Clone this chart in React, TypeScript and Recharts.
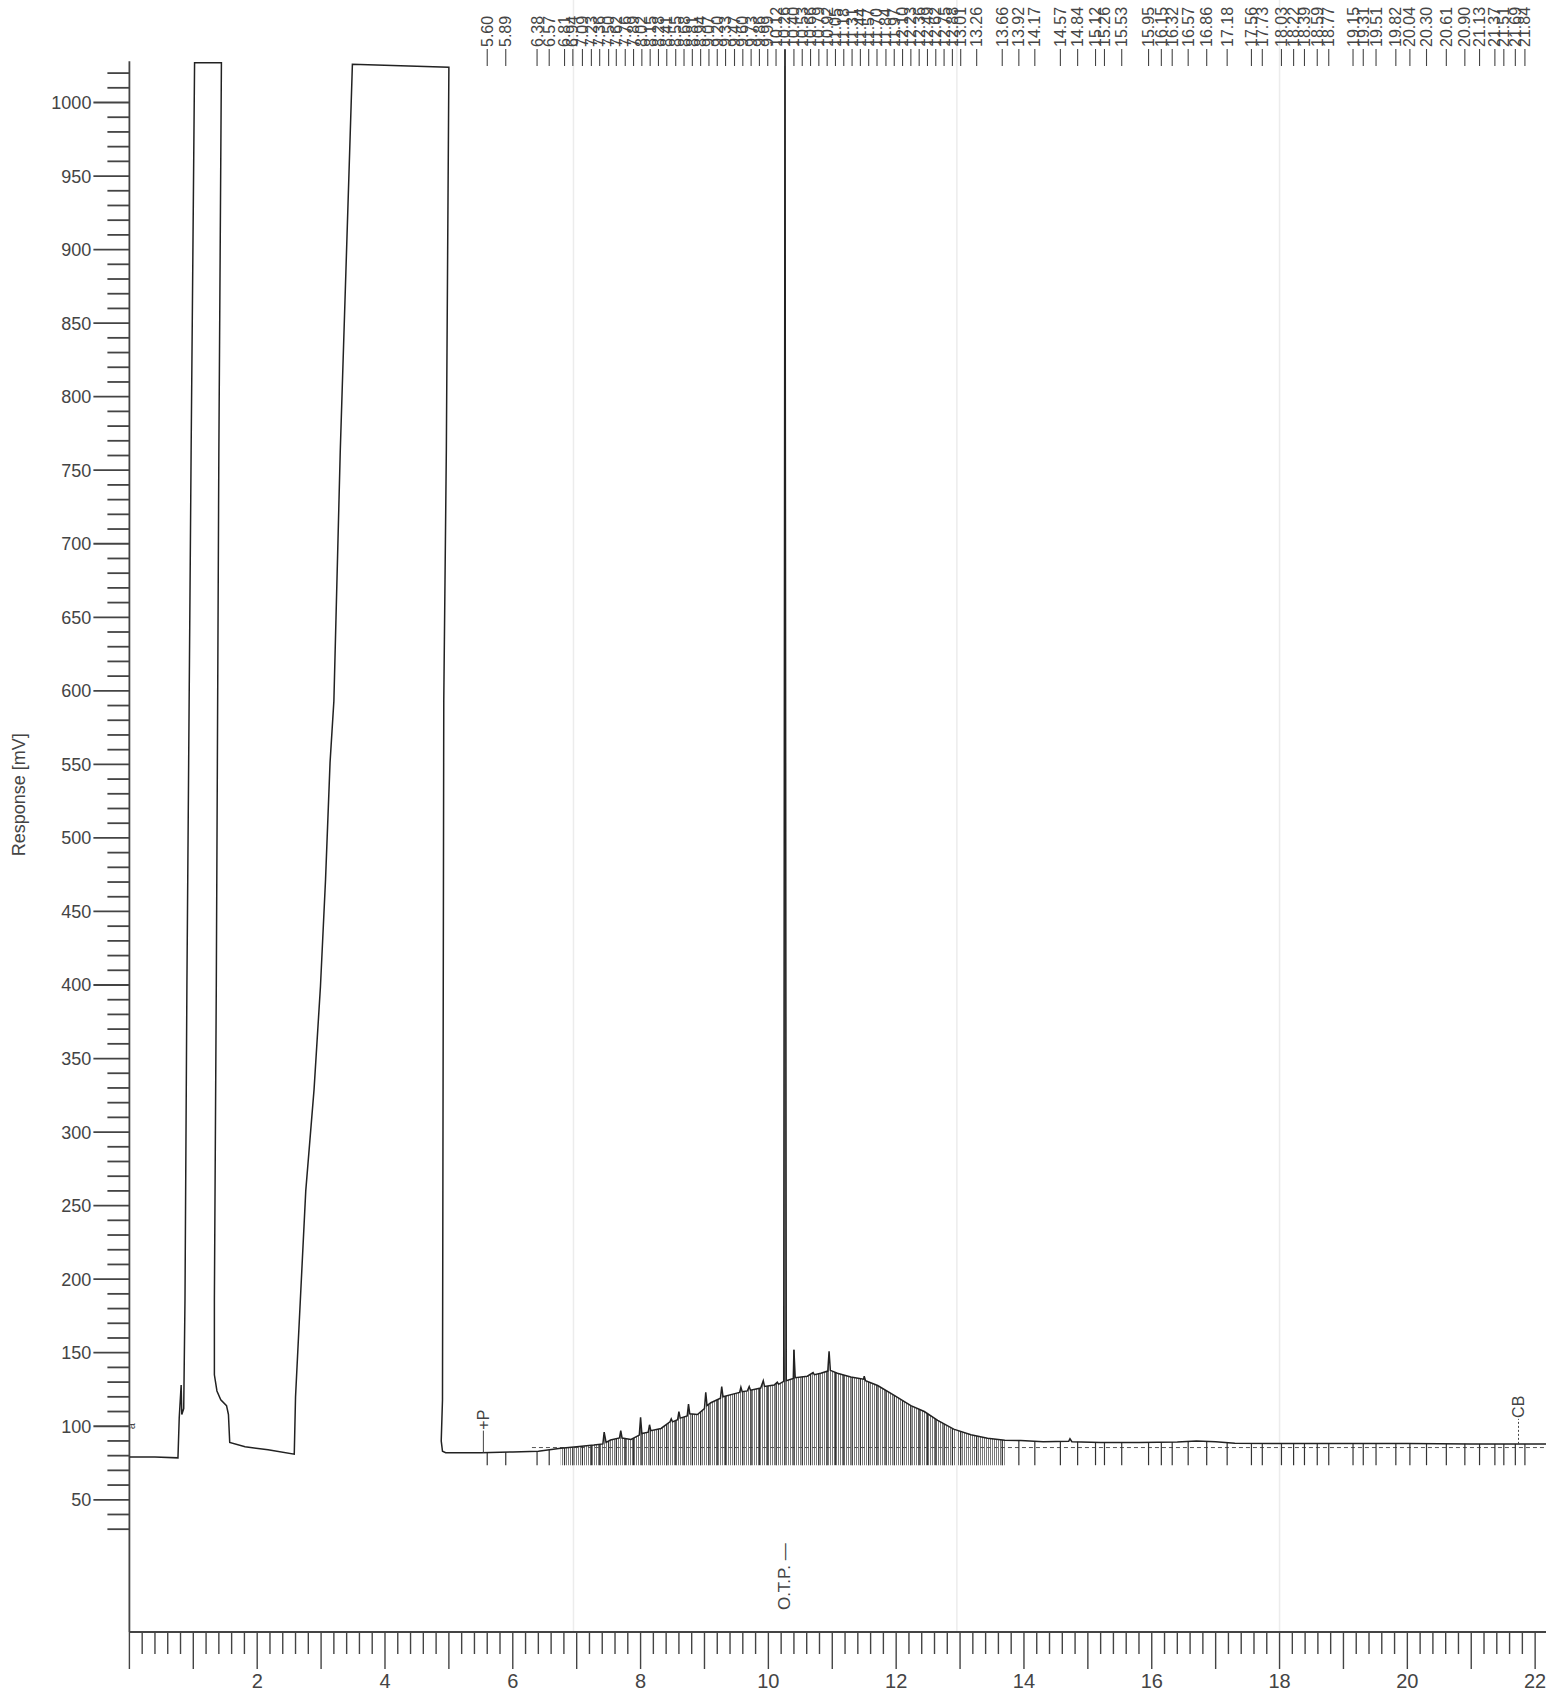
import React from 'react';
import { ComposedChart, Line, Area, Scatter, XAxis, YAxis, ReferenceLine } from 'recharts';

// ---- Data -------------------------------------------------------------
const traceTime = [
  0.0, 0.4, 0.76, 0.78, 0.81, 0.82, 0.85, 0.87, 0.9, 0.966, 1.02, 1.44, 1.4, 1.36, 1.33, 1.33, 1.37, 1.43,
  1.52, 1.55, 1.57, 1.81, 2.17, 2.58, 2.6, 2.76, 2.89, 2.99, 3.07, 3.14, 3.2, 3.3, 3.49, 5.0, 4.96, 4.92,
  4.9, 4.88, 4.9, 4.95, 5.5, 6.0, 6.4, 6.75, 7.0, 7.27, 7.41, 7.43, 7.46, 7.53, 7.67, 7.69, 7.71, 7.85,
  7.98, 8.0, 8.02, 8.12, 8.14, 8.16, 8.32, 8.46, 8.48, 8.5, 8.58, 8.6, 8.62, 8.73, 8.75, 8.77, 8.89, 9.0,
  9.02, 9.04, 9.1, 9.25, 9.27, 9.29, 9.46, 9.55, 9.57, 9.59, 9.67, 9.7, 9.72, 9.88, 9.92, 9.94, 10.09,
  10.14, 10.16, 10.24, 10.26, 10.28, 10.39, 10.4, 10.42, 10.61, 10.7, 10.72, 10.82, 10.93, 10.95, 10.97,
  11.08, 11.29, 11.49, 11.5, 11.52, 11.71, 11.97, 12.23, 12.44, 12.65, 12.9, 13.17, 13.43, 13.7, 13.95,
  14.3, 14.7, 14.72, 14.75, 15.2, 15.8, 16.4, 16.7, 17.0, 17.3, 18.0, 19.0, 20.0, 21.0, 22.17,
];
const traceResponse = [
  79, 79, 78.5, 106, 128, 108, 112, 186, 400, 763, 1027, 1027, 763, 400, 186, 135, 124, 118,
  114, 108, 89, 86, 84, 81, 120, 260, 329, 399, 472, 551, 593, 763, 1026, 1024, 763, 593,
  118, 90, 83, 82, 82, 82.5, 83, 85, 86, 87.2, 88, 96, 89, 90.6, 92, 97, 92, 91,
  94, 106, 95, 96, 101, 97, 98.5, 103, 105, 103, 104.5, 110, 105.5, 107, 115, 108.5, 108, 112,
  123, 114, 116, 119, 127, 120, 122, 123, 126.5, 123.5, 124, 127, 124.5, 126, 131, 127, 128,
  130, 128.5, 130.5, 1036, 131, 132.5, 152, 133, 134, 136.5, 135, 136, 137.5, 151, 138,
  136, 133.5, 132, 134, 131, 127.7, 121, 114, 110, 104, 98, 94.2, 91.9, 90.5, 90.3,
  89.5, 89.8, 91.5, 89.5, 89, 89, 89.3, 90, 89.5, 88.5, 88.3, 88.3, 88.2, 88, 88,
];

// retention times printed at the top of the chromatogram
const peakTimes = [
  5.6, 5.89, 6.38, 6.57, 6.81, 6.94, 7.09, 7.23, 7.36, 7.5, 7.62, 7.76, 7.89, 8.02, 8.15, 8.28, 8.41,
  8.55, 8.68, 8.81, 8.94, 9.07, 9.2, 9.33, 9.47, 9.6, 9.73, 9.86, 9.99, 10.12, 10.26, 10.4, 10.53, 10.66,
  10.79, 10.92, 11.05, 11.18, 11.31, 11.44, 11.57, 11.7, 11.84, 11.97, 12.1, 12.23, 12.36, 12.49, 12.62,
  12.75, 12.88, 13.01, 13.26, 13.66, 13.92, 14.17, 14.57, 14.84, 15.12, 15.26, 15.53, 15.95, 16.15,
  16.32, 16.57, 16.86, 17.18, 17.56, 17.73, 18.03, 18.22, 18.39, 18.59, 18.77, 19.15, 19.31, 19.51,
  19.82, 20.04, 20.3, 20.61, 20.9, 21.13, 21.37, 21.51, 21.69, 21.84,
];

const markerTimes = [5.54, 21.74];
const markerTexts = ['+P', 'CB'];
const otpTime = [10.26];
const otpText = ['O.T.P. \u2014'];
const startTime = [0.02];
const startText = ['a'];

const yTicks = Array.from({ length: 100 }, (_, i) => 30 + i * 10);
const yLabels = [50, 100, 150, 200, 250, 300, 350, 400, 450, 500, 550, 600, 650, 700, 750, 800, 850, 900, 950, 1000];
const xTicks = Array.from({ length: 111 }, (_, i) => Math.round(i * 2) / 10);
const xLabels = [2, 4, 6, 8, 10, 12, 14, 16, 18, 20, 22];
const paperLines = [6.95, 12.95, 18.0];

// ---- Derived ----------------------------------------------------------
const X_MAX = 22.17;
const Y_MIN = -39.9;
const Y_MAX = 1069.7;
const RULER_TOP = 1028;
const DROP_BOTTOM = 73.5;
const LABEL_ROW = 1036.4;
const BASE_DASH = 85.5;

const trace = traceTime.map((t, i) => ({ t, v: traceResponse[i] }));
const hump = trace
  .filter((d) => d.t >= 6.5 && d.t <= 13.9)
  .map((d) => ({ t: d.t, v: Math.min(d.v, 160) }));

function traceAt(t: number): number {
  for (let i = 0; i < traceTime.length - 1; i++) {
    const a = traceTime[i];
    const b = traceTime[i + 1];
    if (b > a && t >= a && t <= b && a >= 5.4) {
      const f = (t - a) / (b - a);
      return traceResponse[i] + f * (traceResponse[i + 1] - traceResponse[i]);
    }
  }
  return 88;
}

const peakLabelData = peakTimes.map((t) => ({ t, v: LABEL_ROW, text: t.toFixed(2) }));
const markerData = markerTimes.map((t, i) => ({ t, v: traceAt(t), text: markerTexts[i], dashed: i === 1 }));
const otpData = otpTime.map((t, i) => ({ t, v: -25, text: otpText[i] }));
const startData = startTime.map((t, i) => ({ t, v: 98, text: startText[i] }));

const FONT = '"Liberation Sans", Arial, Helvetica, sans-serif';
const INK = '#222';
const TXT = '#444';

// ---- Custom renderers ---------------------------------------------------
const XTick = (props: any) => {
  const { x, y, payload } = props;
  const v = payload.value as number;
  const r = Math.round(v);
  const isInt = Math.abs(v - r) < 1e-6;
  const len = isInt ? 37 : 22;
  return (
    <g>
      <line x1={x} x2={x} y1={y} y2={y + len} stroke="#444" strokeWidth={1.4} />
      {isInt && xLabels.includes(r) && (
        <text x={x} y={y + 56} textAnchor="middle" fontSize={20} fill={TXT} fontFamily={FONT}>
          {r}
        </text>
      )}
    </g>
  );
};

const YTick = (props: any) => {
  const { x, y, payload } = props;
  const v = payload.value as number;
  const major = v % 50 === 0;
  return (
    <g>
      <line x1={x - (major ? 36 : 22)} x2={x} y1={y} y2={y} stroke="#444" strokeWidth={1.8} />
      {yLabels.includes(v) && (
        <text x={x - 38} y={y} dy="0.36em" textAnchor="end" fontSize={18} fill={TXT} fontFamily={FONT}>
          {v}
        </text>
      )}
    </g>
  );
};

const PeakLabel = (props: any) => {
  const { cx, cy, payload } = props;
  return (
    <g>
      <line x1={cx} x2={cx} y1={cy} y2={cy + 17} stroke="#444" strokeWidth={1.1} />
      <text
        transform={`translate(${cx},${cy - 2}) rotate(-90)`}
        fontSize={16}
        fill={TXT}
        fontFamily={FONT}
        dominantBaseline="central"
      >
        {payload.text}
      </text>
    </g>
  );
};

const MarkerLabel = (props: any) => {
  const { cx, cy, payload } = props;
  const len = payload.dashed ? 25 : 22;
  return (
    <g>
      <line
        x1={cx}
        x2={cx}
        y1={cy}
        y2={cy - len}
        stroke="#444"
        strokeWidth={1}
        strokeDasharray={payload.dashed ? '2 2' : undefined}
      />
      <text
        transform={`translate(${cx},${cy - len - 1}) rotate(-90)`}
        fontSize={16}
        fill={TXT}
        fontFamily={FONT}
        dominantBaseline="central"
      >
        {payload.text}
      </text>
    </g>
  );
};

const RotText = (size: number) => (props: any) => {
  const { cx, cy, payload } = props;
  return (
    <text
      transform={`translate(${cx},${cy}) rotate(-90)`}
      fontSize={size}
      fill={TXT}
      fontFamily={FONT}
      dominantBaseline="central"
    >
      {payload.text}
    </text>
  );
};

const YTitle = (props: any) => {
  const vb = props.viewBox || { x: 0, y: 0, width: 129, height: 1632 };
  const cx = vb.x + 19;
  const cy = vb.y + vb.height * 0.487;
  return (
    <text
      transform={`translate(${cx},${cy}) rotate(-90)`}
      textAnchor="middle"
      dominantBaseline="central"
      fontSize={18}
      fill={TXT}
      fontFamily={FONT}
    >
      Response [mV]
    </text>
  );
};

export default function App() {
  return (
    <div style={{ position: 'absolute', left: 0, top: 0, background: '#fff', fontFamily: FONT }}>
      <ComposedChart width={1546} height={1692} margin={{ top: 0, right: 0, bottom: 0, left: 0 }}>
        <defs>
          <pattern id="hatch" width="2" height="8" patternUnits="userSpaceOnUse">
            <line x1="0.5" y1="0" x2="0.5" y2="8" stroke="#7a7a7a" strokeWidth="1" />
          </pattern>
        </defs>
        <XAxis
          dataKey="t"
          type="number"
          domain={[0, X_MAX]}
          allowDataOverflow
          ticks={xTicks}
          interval={0}
          tick={<XTick />}
          tickLine={false}
          tickSize={0}
          tickMargin={0}
          height={60}
          axisLine={{ stroke: '#444', strokeWidth: 2 }}
        />
        <YAxis
          dataKey="v"
          type="number"
          domain={[Y_MIN, Y_MAX]}
          allowDataOverflow
          ticks={yTicks}
          interval={0}
          tick={<YTick />}
          tickLine={false}
          tickSize={0}
          tickMargin={0}
          width={129.4}
          axisLine={false}
          label={<YTitle />}
        />

        {paperLines.map((x) => (
          <ReferenceLine key={'p' + x} x={x} stroke="#ececec" strokeWidth={1.5} />
        ))}

        <ReferenceLine
          segment={[
            { x: 0, y: Y_MIN },
            { x: 0, y: RULER_TOP },
          ]}
          stroke="#444"
          strokeWidth={1.8}
        />

        <Area
          data={hump}
          dataKey="v"
          type="linear"
          baseValue={DROP_BOTTOM}
          stroke="none"
          fill="url(#hatch)"
          fillOpacity={1}
          isAnimationActive={false}
        />

        <ReferenceLine
          segment={[
            { x: 6.3, y: BASE_DASH },
            { x: X_MAX, y: BASE_DASH },
          ]}
          stroke="#555"
          strokeWidth={1}
          strokeDasharray="4 3"
        />

        {peakTimes.map((t) => (
          <ReferenceLine
            key={'d' + t}
            segment={[
              { x: t, y: traceAt(t) },
              { x: t, y: DROP_BOTTOM },
            ]}
            stroke="#333"
            strokeWidth={1.2}
          />
        ))}

        <Line
          data={trace}
          dataKey="v"
          type="linear"
          dot={false}
          activeDot={false}
          stroke={INK}
          strokeWidth={1.5}
          isAnimationActive={false}
        />

        <Scatter data={peakLabelData} dataKey="v" shape={PeakLabel} isAnimationActive={false} />
        <Scatter data={markerData} dataKey="v" shape={MarkerLabel} isAnimationActive={false} />
        <Scatter data={otpData} dataKey="v" shape={RotText(17)} isAnimationActive={false} />
        <Scatter data={startData} dataKey="v" shape={RotText(11)} isAnimationActive={false} />
      </ComposedChart>
    </div>
  );
}
